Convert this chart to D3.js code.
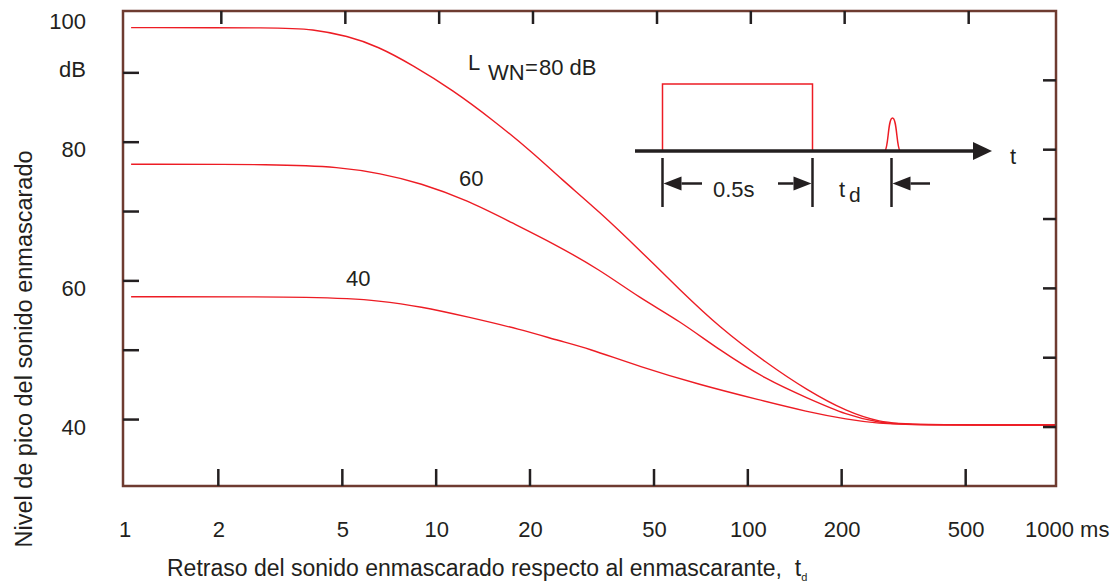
<!DOCTYPE html>
<html>
<head>
<meta charset="utf-8">
<script src="https://cdn.jsdelivr.net/npm/d3@7"></script>
<style>
  html, body { margin: 0; padding: 0; background: #fff; }
  svg { display: block; font-family: "Liberation Sans", Arial, Helvetica, sans-serif; }
  text { fill: #231f20; }
</style>
</head>
<body>
<svg id="chart" width="1113" height="584"></svg>
<script>
// Forward masking: peak level of the masked sound vs. its delay after a
// 0.5 s white-noise masker, for masker levels of 80, 60 and 40 dB.

// Delay t_d (ms) and level (dB) for each masker level
const delay80 = [1.05, 3.15, 4.0, 5.2, 6.5, 8.4, 11.3, 15.2, 20.5, 25, 33.5, 45, 60.5, 81, 115, 155, 208, 265, 330, 975];
const level80 = [97.6, 97.6, 97.4, 96.4, 94.9, 92.2, 88.6, 84.3, 79.5, 75.9, 71.0, 65.5, 59.8, 54.4, 49.2, 45.3, 42.2, 40.7, 40.3, 40.3];

const delay60 = [1.05, 3.15, 4.9, 6.6, 8.9, 12.6, 17.6, 23.7, 33.5, 45, 60.5, 81, 115, 155, 208, 265, 330, 975];
const level60 = [77.9, 77.9, 77.5, 76.6, 75.2, 72.7, 69.4, 66.5, 62.7, 58.6, 55.3, 51.1, 46.8, 44.2, 41.7, 40.6, 40.3, 40.3];

const delay40 = [1.05, 4.6, 6.6, 8.9, 12.6, 18.6, 25, 30.5, 45, 70, 109, 155, 208, 265, 330, 975];
const level40 = [58.8, 58.8, 58.2, 57.4, 55.9, 54.1, 52.4, 51.4, 48.7, 46.1, 43.9, 42.2, 41.1, 40.5, 40.3, 40.3];

// Axis ticks and labels
const xTickValues = [2, 5, 10, 20, 50, 100, 200, 500];
const xLabelValues = [1, 2, 5, 10, 20, 50, 100, 200, 500, 1000];
const yTickValues = [90, 80, 70, 60, 50, 40];
const yLabelValues = [100, 80, 60, 40];

const xTitle = "Retraso del sonido enmascarado respecto al enmascarante,  t";
const yTitle = "Nivel de pico del sonido enmascarado";

// ---------------------------------------------------------------------------
const FONT = 22;
const INK = "#231f20";
const RED = "#ed1c24";
const FRAME = "#6e3b30";

const frame = { left: 123, right: 1056, top: 11, bottom: 486 };

const x = d3.scaleLog().domain([1, 1000]).range([124.5, 1059.5]);
const y = d3.scaleLinear().domain([31.5, 100]).range([frame.bottom, frame.top]);

const svg = d3.select("#chart");

// Curves
const series = [
  { t: delay80, L: level80 },
  { t: delay60, L: level60 },
  { t: delay40, L: level40 }
];
const line = d3.line()
  .x(d => x(d[0]))
  .y(d => y(d[1]))
  .curve(d3.curveBasis);

svg.append("g").selectAll("path")
  .data(series)
  .join("path")
  .attr("d", s => line(d3.zip(s.t, s.L)))
  .attr("fill", "none")
  .attr("stroke", RED)
  .attr("stroke-width", 1.4);

// Frame
svg.append("rect")
  .attr("x", frame.left).attr("y", frame.top)
  .attr("width", frame.right - frame.left)
  .attr("height", frame.bottom - frame.top)
  .attr("fill", "none")
  .attr("stroke", FRAME)
  .attr("stroke-width", 2.5);

// Inward tick marks on all four sides
const ticks = svg.append("g").attr("stroke", INK).attr("stroke-width", 2.5);
ticks.selectAll("line.b").data(xTickValues).join("line").attr("class", "b")
  .attr("x1", d => x(d)).attr("x2", d => x(d))
  .attr("y1", frame.bottom).attr("y2", frame.bottom - 17);
ticks.selectAll("line.t").data(xTickValues).join("line").attr("class", "t")
  .attr("x1", d => x(d) + 3).attr("x2", d => x(d) + 3)
  .attr("y1", frame.top).attr("y2", frame.top + 13);
ticks.selectAll("line.l").data(yTickValues).join("line").attr("class", "l")
  .attr("x1", frame.left).attr("x2", frame.left + 16)
  .attr("y1", d => y(d) - 7.5).attr("y2", d => y(d) - 7.5);
ticks.selectAll("line.r").data(yTickValues).join("line").attr("class", "r")
  .attr("x1", frame.right - 13).attr("x2", frame.right)
  .attr("y1", d => y(d)).attr("y2", d => y(d));

// X labels
const xAxis = d3.axisBottom(x)
  .tickValues(xLabelValues)
  .tickSize(0)
  .tickPadding(35)
  .tickFormat(d => d === 1000 ? "1000 ms" : String(d));
const gx = svg.append("g")
  .attr("transform", `translate(0,${frame.bottom})`)
  .call(xAxis);
gx.select(".domain").remove();
gx.attr("font-size", FONT).attr("font-family", null);
gx.selectAll("text").attr("fill", INK);
gx.selectAll(".tick").filter(d => d === 1000).select("text")
  .attr("text-anchor", "start").attr("x", -35);

// Y labels
const yAxis = d3.axisLeft(y)
  .tickValues(yLabelValues)
  .tickSize(0)
  .tickPadding(37);
const gy = svg.append("g")
  .attr("transform", `translate(${frame.left},0)`)
  .call(yAxis);
gy.select(".domain").remove();
gy.attr("font-size", FONT).attr("font-family", null);
gy.selectAll("text").attr("fill", INK);
gy.selectAll(".tick").filter(d => d === 100).select("text").attr("y", 10);

svg.append("text")
  .attr("x", frame.left - 37).attr("y", y(90) - 3)
  .attr("text-anchor", "end").attr("font-size", FONT)
  .text("dB");

// Axis titles
const xt = svg.append("text")
  .attr("x", 167).attr("y", 576)
  .attr("font-size", 23)
  .style("white-space", "pre");
xt.append("tspan").text(xTitle);
xt.append("tspan").attr("font-size", 11).attr("dy", 5).text("d");

svg.append("text")
  .attr("transform", `translate(32,349) rotate(-90)`)
  .attr("text-anchor", "middle")
  .attr("font-size", 23.5)
  .text(yTitle);

// Curve annotations
const ann = svg.append("g").attr("font-size", FONT);
ann.append("text").attr("x", 468).attr("y", 69.5).text("L");
ann.append("text").attr("x", 488).attr("y", 80).text("WN");
ann.append("text").attr("x", 525).attr("y", 75).text("=");
ann.append("text").attr("x", 539).attr("y", 75).text("80 dB");
ann.append("text").attr("x", 459).attr("y", 186).text("60");
ann.append("text").attr("x", 346).attr("y", 286).text("40");

// Stimulus timing sketch: masker burst, probe pulse and delay t_d
const inset = {
  axisY: 151, x0: 635, arrowBase: 973, arrowTip: 992,
  maskOn: 662.5, maskOff: 812.5, maskTop: 84,
  probeX: 892.5, probeTop: 118, probeHalf: 7.5,
  dimTop: 158, dimBottom: 207, dimY: 183.5
};
const gi = svg.append("g");

// masker burst
gi.append("path")
  .attr("d", `M${inset.maskOn},${inset.axisY} V${inset.maskTop} H${inset.maskOff} V${inset.axisY}`)
  .attr("fill", "none").attr("stroke", RED).attr("stroke-width", 1.5);

// probe pulse
const px = inset.probeX, ph = inset.probeHalf;
gi.append("path")
  .attr("d", `M${px - ph},${inset.axisY} C${px - 4},${inset.axisY - 4} ${px - 4.5},${inset.probeTop} ${px},${inset.probeTop} ` +
             `C${px + 4.5},${inset.probeTop} ${px + 4},${inset.axisY - 4} ${px + ph},${inset.axisY}`)
  .attr("fill", "none").attr("stroke", RED).attr("stroke-width", 1.5);

// time axis
gi.append("line")
  .attr("x1", inset.x0).attr("x2", inset.arrowBase + 2)
  .attr("y1", inset.axisY).attr("y2", inset.axisY)
  .attr("stroke", INK).attr("stroke-width", 3.5);
gi.append("path")
  .attr("d", `M${inset.arrowBase},${inset.axisY - 9} L${inset.arrowTip},${inset.axisY} L${inset.arrowBase},${inset.axisY + 9} Z`)
  .attr("fill", INK);
gi.append("text").attr("x", 1010).attr("y", 164).attr("font-size", FONT).text("t");

// dimension markers
[inset.maskOn, inset.maskOff, inset.probeX - 1].forEach(mx => {
  gi.append("line")
    .attr("x1", mx).attr("x2", mx)
    .attr("y1", inset.dimTop).attr("y2", inset.dimBottom)
    .attr("stroke", INK).attr("stroke-width", 2.5);
});

function dimArrow(tip, dir, tail) {
  // dir = -1 points left, +1 points right
  const base = tip - dir * 18;
  gi.append("line")
    .attr("x1", base).attr("x2", tail)
    .attr("y1", inset.dimY).attr("y2", inset.dimY)
    .attr("stroke", INK).attr("stroke-width", 2.5);
  gi.append("path")
    .attr("d", `M${tip},${inset.dimY} L${base},${inset.dimY - 7} L${base},${inset.dimY + 7} Z`)
    .attr("fill", INK);
}
dimArrow(inset.maskOn + 1, -1, 702);
dimArrow(inset.maskOff - 1, 1, 778);
dimArrow(inset.probeX, -1, 930);

gi.append("text").attr("x", 713).attr("y", 197).attr("font-size", FONT).text("0.5s");
gi.append("text").attr("x", 839).attr("y", 197).attr("font-size", FONT).text("t");
gi.append("text").attr("x", 849).attr("y", 202).attr("font-size", 21).text("d");
</script>
</body>
</html>
